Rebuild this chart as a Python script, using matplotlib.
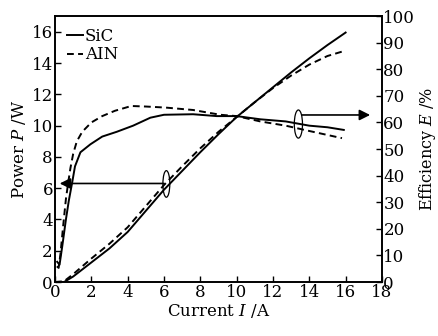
import matplotlib
matplotlib.use("Agg")
import matplotlib.pyplot as plt
from matplotlib.patches import Ellipse

plt.rcParams['font.family'] = ['DejaVu Serif']
plt.rcParams['mathtext.fontset'] = 'dejavuserif'

# output power vs current (W)
current = [0, 0.5, 1, 2, 3, 4, 5, 6, 7, 8, 9, 10, 11, 12, 13, 14, 15, 16]
power_sic = [0, 0, 0.35, 1.25, 2.15, 3.2, 4.55, 5.9, 7.1, 8.3, 9.45, 10.55,
             11.5, 12.45, 13.4, 14.3, 15.15, 15.95]
power_aln = [0, 0.05, 0.5, 1.5, 2.45, 3.5, 4.85, 6.2, 7.4, 8.55, 9.6, 10.55,
             11.5, 12.4, 13.2, 13.9, 14.45, 14.8]

# efficiency vs current (%)
eff_x_sic = [0.12, 0.25, 0.4, 0.6, 0.76, 0.95, 1.1, 1.4, 1.95, 2.6, 3.4, 4.3,
             5.25, 6.0, 7.6, 8.9, 10.0, 11.3, 12.7, 14.0, 15.0, 15.9]
eff_sic = [7.6, 6.5, 13.5, 23.5, 30.6, 37.6, 43.5, 48.8, 51.8, 54.7, 56.5, 58.8,
           61.8, 62.9, 63.1, 62.4, 62.4, 61.2, 60.4, 58.8, 58.2, 57.2]
eff_x_aln = [0.1, 0.2, 0.3, 0.45, 0.6, 0.72, 0.85, 1.0, 1.2, 1.5, 2.0, 2.6, 3.3,
             4.2, 5.0, 6.1, 7.6, 9.1, 10.0, 11.3, 12.7, 14.0, 15.0, 15.8]
eff_aln = [5.9, 5.3, 10.6, 21.2, 31.2, 37.1, 42.9, 48.2, 52.9, 56.5, 60.0, 62.4,
           64.4, 66.2, 66.0, 65.6, 64.7, 62.9, 62.4, 60.4, 58.8, 56.8, 55.3, 54.1]

fig = plt.figure(figsize=(4.38, 3.36), dpi=100)
ax = fig.add_axes([0.1256, 0.1607, 0.7464, 0.7913])
ax2 = ax.twinx()

dash = (0, (3.5, 2.2))
ax.plot(current, power_sic, color='k', lw=1.4, label='SiC')
ax.plot(current, power_aln, color='k', lw=1.4, ls=dash, label='AIN')
ax2.plot(eff_x_sic, eff_sic, color='k', lw=1.4)
ax2.plot(eff_x_aln, eff_aln, color='k', lw=1.4, ls=dash)

ax.set_xlim(0, 18)
ax.set_ylim(0, 17)
ax2.set_ylim(0, 100)
ax.set_xticks(range(0, 19, 2))
ax.set_yticks(range(0, 17, 2))
ax2.set_yticks(range(0, 101, 10))

ax.tick_params(axis='both', direction='in', length=4, width=1, labelsize=12, pad=1.5)
ax.tick_params(axis='x', top=False)
ax2.tick_params(axis='y', direction='in', length=4, width=1, labelsize=12, pad=1)
for a in (ax, ax2):
    for s in a.spines.values():
        s.set_linewidth(1.2)

ax.set_xlabel('Current $I$ /A', fontsize=12, labelpad=1)
ax.set_ylabel('Power $P$ /W', fontsize=12, labelpad=3)
ax2.set_ylabel('Efficiency $E$ /%', fontsize=11.5, labelpad=1)

# ellipses and arrows pointing to the matching axis
ax.add_patch(Ellipse((6.13, 6.27), 0.38, 1.7, fill=False, lw=0.9, color='k'))
ax.add_patch(Ellipse((13.4, 10.1), 0.45, 1.8, fill=False, lw=0.9, color='k'))
ax.annotate('', xy=(0.26, 6.3), xytext=(6.0, 6.3),
            arrowprops=dict(arrowstyle='-|>', color='k', lw=1.2, mutation_scale=16,
                            shrinkA=0, shrinkB=0))
ax.annotate('', xy=(17.35, 10.68), xytext=(13.6, 10.68),
            arrowprops=dict(arrowstyle='-|>', color='k', lw=1.2, mutation_scale=16,
                            shrinkA=0, shrinkB=0))

ax.legend(loc='upper left', frameon=False, fontsize=12, handlelength=1.0,
          handletextpad=0.1, labelspacing=0.1, borderaxespad=0.3)

fig.savefig('out.png', dpi=100)
